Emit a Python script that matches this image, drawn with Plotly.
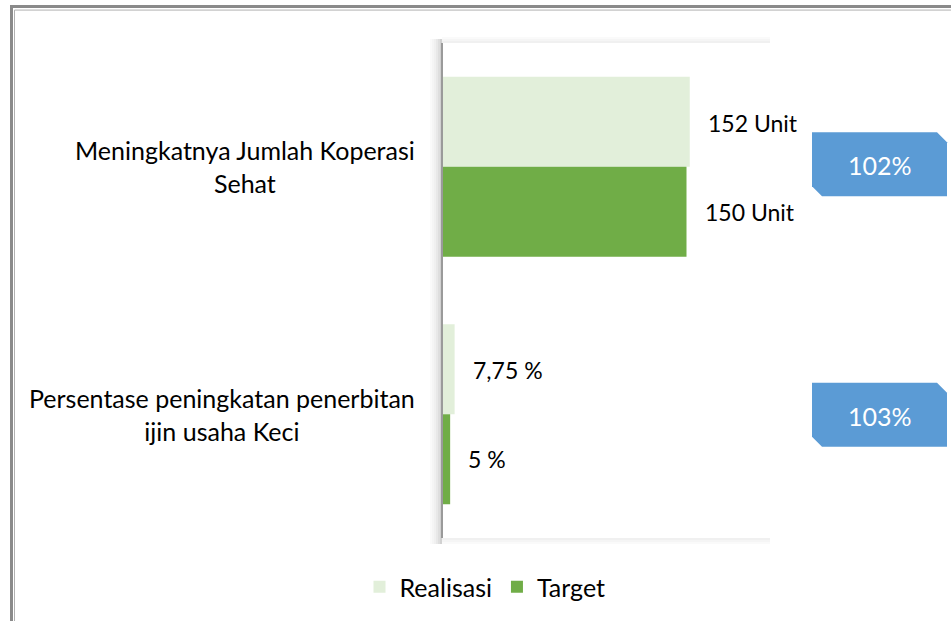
import plotly.graph_objects as go

# ---------------- data ----------------
categories = ["Meningkatnya Jumlah Koperasi<br>Sehat",
              "Persentase peningkatan penerbitan<br>ijin usaha Keci"]
realisasi = [152, 7.75]
target = [150, 5]
realisasi_labels = ["152 Unit", "7,75 %"]
target_labels = ["150 Unit", "5 %"]
achievement = ["102%", "103%"]
series_names = ["Realisasi", "Target"]

# ---------------- style ----------------
W, H = 951, 621
PL, PR, PT, PB = 442, 768, 43, 539          # plot area in px
FONT = "Lato"
C_REAL = "#E2EFDA"
C_TGT = "#70AD47"
C_BOX = "#5B9BD5"
FS_CAT, FS_LBL, FS_BOX, FS_LEG = 25, 23, 25, 25

def px(xp):   # pixel -> paper x
    return (xp - PL) / (PR - PL)

def py(yp):   # pixel -> paper y
    return (PB - yp) / (PB - PT)

fig = go.Figure()
fig.add_trace(go.Bar(y=categories, x=realisasi, orientation="h", name=series_names[0],
                     marker=dict(color=C_REAL, line=dict(width=0)), hoverinfo="skip"))
fig.add_trace(go.Bar(y=categories, x=target, orientation="h", name=series_names[1],
                     marker=dict(color=C_TGT, line=dict(width=0)), hoverinfo="skip"))

annotations = []
shapes = []

# category labels
for c in categories:
    annotations.append(dict(x=0, xref="paper", y=c, yref="y", text=c, showarrow=False,
                            xanchor="right", yanchor="middle", align="center", xshift=-25,
                            font=dict(family=FONT, size=FS_CAT, color="#000000")))

# data labels
cat_px = (PB - PT) / len(categories)
off = cat_px * (1 - 0.273) / 4
for c, v, t in zip(categories, realisasi, realisasi_labels):
    annotations.append(dict(x=v, xref="x", y=c, yref="y", text=t, showarrow=False,
                            xanchor="left", yanchor="middle", xshift=16, yshift=off - 1,
                            font=dict(family=FONT, size=FS_LBL, color="#000000")))
for c, v, t in zip(categories, target, target_labels):
    annotations.append(dict(x=v, xref="x", y=c, yref="y", text=t, showarrow=False,
                            xanchor="left", yanchor="middle", xshift=16, yshift=-off,
                            font=dict(family=FONT, size=FS_LBL, color="#000000")))

# callout boxes (snipped corners)
bx0, bx1 = px(812), px(947)
sx = 10 / (PR - PL)
h = 32 / cat_px
s = 10 / cat_px
box_shift = [-2.5 / cat_px, 0.5 / cat_px]
for i, a in enumerate(achievement):
    cy = i + box_shift[i]
    top, bot = cy - h, cy + h
    path = (f"M{bx0},{top} L{bx1 - sx},{top} L{bx1},{top + s} L{bx1},{bot} "
            f"L{bx0 + sx},{bot} L{bx0},{bot - s} Z")
    shapes.append(dict(type="path", xref="paper", yref="y", path=path,
                       fillcolor=C_BOX, line=dict(width=0), layer="above"))
    annotations.append(dict(x=(bx0 + bx1) / 2, xref="paper", y=categories[i], yref="y",
                            text=a, showarrow=False, xanchor="center", yanchor="middle",
                            yshift=-box_shift[i] * cat_px - 1,
                            font=dict(family=FONT, size=FS_BOX, color="#ffffff")))

# plot-area shadow
for k, op in enumerate([0.02, 0.04, 0.06, 0.09, 0.13, 0.18]):
    x0 = PL - 12 + 2 * k
    shapes.append(dict(type="rect", xref="paper", yref="paper",
                       x0=px(x0), x1=px(x0 + 2), y0=py(PB + 6), y1=py(PT - 4),
                       fillcolor=f"rgba(0,0,0,{op})", line=dict(width=0), layer="below"))
for k, op in enumerate([0.02, 0.04, 0.06]):
    y0 = PT - 6 + 2 * k
    shapes.append(dict(type="rect", xref="paper", yref="paper",
                       x0=px(PL), x1=px(770), y0=py(y0 + 2), y1=py(y0),
                       fillcolor=f"rgba(0,0,0,{op})", line=dict(width=0), layer="below"))
for k, op in enumerate([0.06, 0.04, 0.02]):
    y0 = PB + 2 * k
    shapes.append(dict(type="rect", xref="paper", yref="paper",
                       x0=px(PL), x1=px(770), y0=py(y0 + 2), y1=py(y0),
                       fillcolor=f"rgba(0,0,0,{op})", line=dict(width=0), layer="below"))
# left axis line
shapes.append(dict(type="line", xref="paper", yref="paper", x0=px(PL), x1=px(PL),
                   y0=py(PB), y1=py(PT), line=dict(color="#9a9a9a", width=2), layer="above"))

# outer page border (double)
shapes.append(dict(type="rect", xref="paper", yref="paper",
                   x0=px(11.5), x1=px(1000), y0=py(700), y1=py(6.5),
                   line=dict(color="#8a8a8a", width=3), fillcolor="rgba(0,0,0,0)"))
shapes.append(dict(type="rect", xref="paper", yref="paper",
                   x0=px(14.5), x1=px(1000), y0=py(700), y1=py(10),
                   line=dict(color="#b0b0b0", width=1), fillcolor="rgba(0,0,0,0)"))

fig.update_layout(
    width=W, height=H,
    margin=dict(l=PL, r=W - PR, t=PT, b=H - PB, pad=0),
    paper_bgcolor="white", plot_bgcolor="white",
    barmode="group", bargap=0.273, bargroupgap=0,
    font=dict(family=FONT, size=FS_LEG, color="#000000"),
    xaxis=dict(range=[0, 200], showticklabels=False, showgrid=False, zeroline=False,
               showline=False, ticks="", fixedrange=True),
    yaxis=dict(autorange="reversed", showticklabels=False, showgrid=False, zeroline=False,
               showline=False, ticks="", fixedrange=True),
    legend=dict(orientation="h", x=px(485), xanchor="center", y=py(587), yanchor="middle",
                font=dict(family=FONT, size=FS_LEG, color="#000000"),
                traceorder="normal", bgcolor="rgba(0,0,0,0)"),
    showlegend=True,
    annotations=annotations,
    shapes=shapes,
)

fig.write_html("out.html", config={"displayModeBar": False, "staticPlot": True},
               post_script="document.body.style.margin='0';document.body.style.overflow='hidden';")
